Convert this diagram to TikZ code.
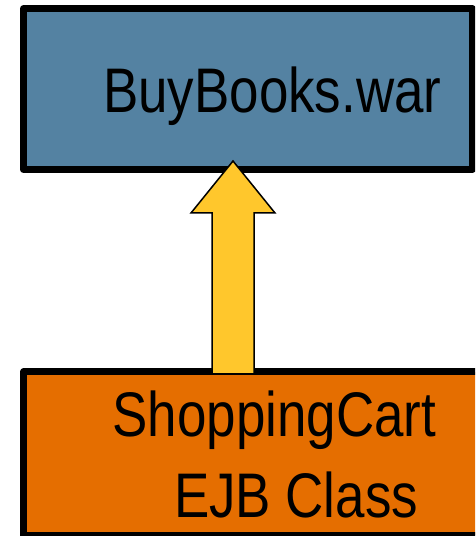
\documentclass[tikz,border=0pt]{standalone}
\usepackage{fontspec}
\newfontfamily\labelfont[FakeStretch=0.84]{Liberation Sans}
\usetikzlibrary{calc}

\definecolor{warblue}{HTML}{5482A2}
\definecolor{ejborange}{HTML}{E56E00}
\definecolor{arrowyellow}{HTML}{FFC72C}

\tikzset{
  module/.style={draw=black, line width=7pt, line join=round, rectangle, inner sep=0pt},
  modlabel/.style={font=\labelfont\fontsize{63}{81}\selectfont, text=black, inner sep=0pt, anchor=base west},
  blockarrow/.style={draw=black, fill=arrowyellow, line width=1.5pt, line join=miter}
}

\begin{document}
\begin{tikzpicture}[x=1pt, y=1pt]
  \clip (0,0) rectangle (475,536);

  % deployed web archive
  \node[module, fill=warblue, minimum width=448.7pt, minimum height=160.7pt]
    (war) at (247.7,446.9) {};
  \node[modlabel] (warlabel) at (103.0,423) {BuyBooks.war};

  % bean class, running past the right and bottom edges
  \node[module, fill=ejborange, minimum width=456.5pt, minimum height=163.5pt]
    (ejb) at (251.75,82.25) {};
  \node[modlabel] (ejblabel1) at (112.4,99) {ShoppingCart};
  \node[modlabel] (ejblabel2) at (173.8,18) {EJB Class};

  % dependency arrow from the bean class up to the archive
  \coordinate (tail) at (233,162);
  \coordinate (tip) at (233,375);
  \draw[blockarrow]
    ($(tail)+(-21,0)$) -- ($(tip)+(-21,-52)$) -- ($(tip)+(-42,-52)$)
    -- (tip) -- ($(tip)+(42,-52)$) -- ($(tip)+(21,-52)$)
    -- ($(tail)+(21,0)$) -- cycle;
\end{tikzpicture}
\end{document}
